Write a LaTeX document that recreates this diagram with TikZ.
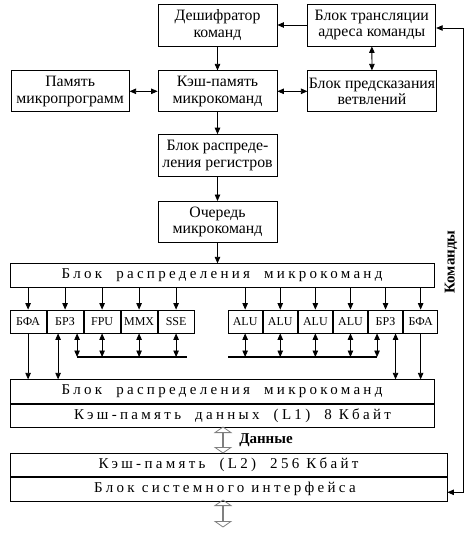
\documentclass[tikz,border=0pt]{standalone}
\usepackage{fontspec}
\setmainfont{Liberation Serif}
\usetikzlibrary{positioning,arrows.meta,shapes.arrows}

\begin{document}
\begin{tikzpicture}[x=1pt,y=-1pt,>={Triangle[length=6.5pt,width=5.5pt]},thick,node distance=24pt,
  unit/.style={draw,minimum width=119pt,minimum height=42pt,inner sep=1pt,align=center,font=\fontsize{15.8}{16.5}\selectfont},
  wide/.style={draw,minimum width=424pt,minimum height=23.5pt,inner sep=0pt,font=\fontsize{15}{16}\selectfont\addfontfeatures{LetterSpace=22}},
  exec/.style={draw,minimum width=36.2pt,minimum height=23pt,inner sep=0pt,font=\fontsize{12}{13}\selectfont},
  alu/.style={exec,minimum width=34.3pt},
  bus/.style={line width=2.5pt},
  hollow/.style={double arrow,draw=gray,line width=0.8pt,rotate=90,inner sep=0pt,minimum width=16pt,double arrow head extend=5.5pt,double arrow tip angle=110},
  label/.style={font=\bfseries\fontsize{15}{16}\selectfont}]

  \useasboundingbox (0,0) rectangle (470,533);

  \node[unit] (dec) at (217.5,25) {Дешифратор\\команд};
  \node[unit,minimum width=128pt] (trans) [right=30pt of dec] {Блок трансляции\\адреса команды};
  \node[unit,minimum height=41pt] (cache) [below=24pt of dec] {Кэш-память\\микрокоманд};
  \node[unit,minimum height=41pt,minimum width=118pt] (mprog) [left=28pt of cache] {Память\\микропрограмм};
  \node[unit,minimum height=41pt,minimum width=128pt] (pred) [right=30pt of cache] {Блок предсказания\\ветвлений};
  \node[unit] (reg) [below=22pt of cache] {Блок распреде-\\ления регистров};
  \node[unit,minimum height=41pt] (queue) [below=24pt of reg] {Очередь\\микрокоманд};

  \node[wide] (disp1) at (222,275.5) {Блок\ \ распределения\ \ микрокоманд};

  \node[exec] (lbfa) at (28.1,321.5) {БФА};
  \node[exec] (lbrz) [right=0pt of lbfa] {БРЗ};
  \node[exec] (fpu) [right=0pt of lbrz] {FPU};
  \node[exec] (mmx) [right=0pt of fpu] {MMX};
  \node[exec] (sse) [right=0pt of mmx] {SSE};

  \node[alu] (alu1) at (245.15,321.5) {ALU};
  \node[alu] (alu2) [right=0pt of alu1] {ALU};
  \node[alu] (alu3) [right=0pt of alu2] {ALU};
  \node[alu] (alu4) [right=0pt of alu3] {ALU};
  \node[alu] (rbrz) [right=0pt of alu4] {БРЗ};
  \node[alu] (rbfa) [right=0pt of rbrz] {БФА};

  \node[wide] (disp2) at (222,391.5) {Блок\ \ распределения\ \ микрокоманд};
  \node[wide] (l1) [below=0pt of disp2] {\ \ \ Кэш-память\ \ данных\ \ (L1)\ \ 8 Кбайт};

  \node[wide,minimum width=437pt] (l2) at (228.5,465) {Кэш-память\ \ (L2)\ \ 256 Кбайт};
  \node[wide,minimum width=437pt] (sysif) [below=0pt of l2] {Блок системного интерфейса\ \ };

  \node[hollow,minimum height=26pt] (datalink) at (223,440) {};
  \node[hollow,minimum height=27pt] (syslink) at (223,513.5) {};

  \node[label] (data) at (266,440) {Данные};
  \node[label,rotate=90] (cmd) at (451,262) {Команды};

  \coordinate (lbusend) at (187,357);
  \coordinate (rbusstart) at (228,357);

  \path[->]
    (dec) edge (cache)
    (cache) edge (reg)
    (reg) edge (queue)
    (queue) edge (queue |- disp1.north)
    (trans) edge (dec)
    ;
  \path[<->]
    (trans) edge (pred)
    (mprog) edge (cache)
    (cache) edge (pred)
    ;

  \path[->]
    (lbfa |- disp1.south) edge (lbfa)
    (lbrz |- disp1.south) edge (lbrz)
    (fpu |- disp1.south) edge (fpu)
    (mmx |- disp1.south) edge (mmx)
    (sse |- disp1.south) edge (sse)
    (alu1 |- disp1.south) edge (alu1)
    (alu2 |- disp1.south) edge (alu2)
    (alu3 |- disp1.south) edge (alu3)
    (alu4 |- disp1.south) edge (alu4)
    (rbrz |- disp1.south) edge (rbrz)
    (rbfa |- disp1.south) edge (rbfa)
    (lbfa) edge (lbfa |- disp2.north)
    (rbfa) edge (rbfa |- disp2.north)
    ;

  \draw[bus] ([xshift=12pt]lbrz.south |- lbusend) -- (lbusend);
  \draw[bus] (rbusstart) -- ([xshift=-8.5pt]rbrz.south |- rbusstart);

  \path[<->]
    ([xshift=-7pt]lbrz.south) edge ([xshift=-7pt]lbrz.south |- disp2.north)
    ([xshift=10pt]rbrz.south) edge ([xshift=10pt]rbrz.south |- disp2.north)
    ([xshift=12pt]lbrz.south) edge ([xshift=12pt]lbrz.south |- lbusend)
    (fpu) edge (fpu |- lbusend)
    (mmx) edge (mmx |- lbusend)
    (sse) edge (sse |- lbusend)
    (alu1) edge (alu1 |- rbusstart)
    (alu2) edge (alu2 |- rbusstart)
    (alu3) edge (alu3 |- rbusstart)
    (alu4) edge (alu4 |- rbusstart)
    ([xshift=-8.5pt]rbrz.south) edge ([xshift=-8.5pt]rbrz.south |- rbusstart)
    ;

  \draw[<->] ([yshift=-3pt]trans.east) -- ++(27,0) |- ([yshift=-3pt]sysif.east);
\end{tikzpicture}
\end{document}
